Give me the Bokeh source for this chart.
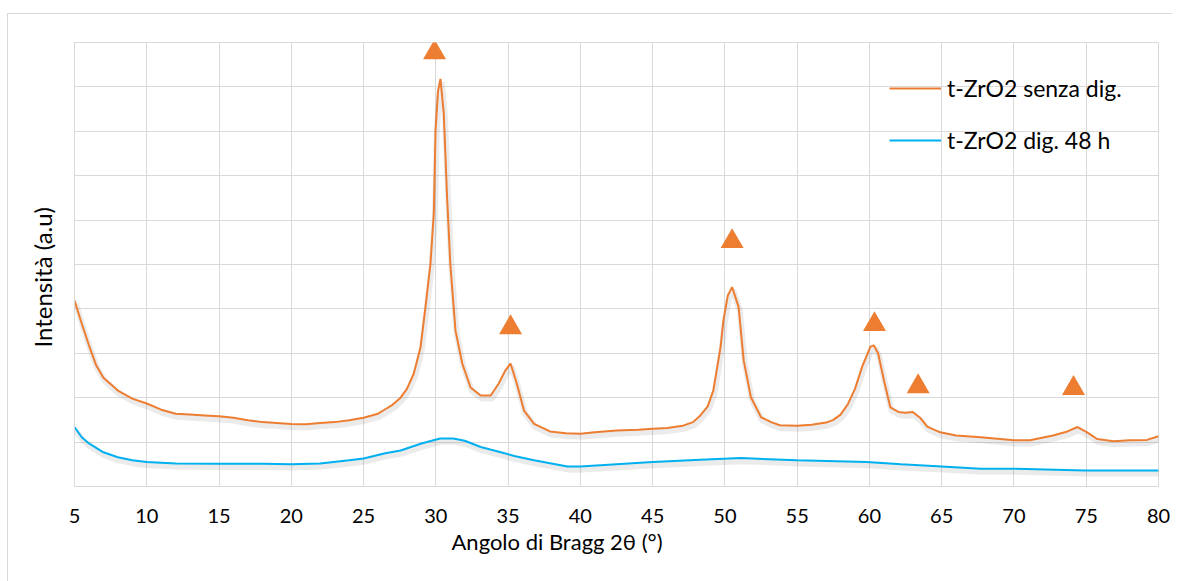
from bokeh.plotting import figure
from bokeh.models import Range1d, FixedTicker, Legend, LegendItem, Title
from bokeh.transform import dodge
from bokeh.embed import file_html
from bokeh.resources import INLINE

# ---- data ----
x_ticks = [5, 10, 15, 20, 25, 30, 35, 40, 45, 50, 55, 60, 65, 70, 75, 80]

x_senza = [5, 5.5, 6, 6.5, 7, 8, 9, 10, 11, 12, 13, 14, 15, 16, 17, 18, 19, 20, 21, 22,
           23, 24, 25, 26, 26.5, 27, 27.56, 28, 28.47, 28.94, 29.28, 29.63, 29.86, 29.98,
           30.15, 30.32, 30.55, 30.78, 31.0, 31.36, 31.83, 32.4, 33.1, 33.8, 34.35, 34.8,
           35.17, 35.6, 36.1, 36.8, 37.9, 39, 40, 41, 42.5, 44, 45, 46, 47.1, 47.8, 48.3,
           48.8, 49.2, 49.7, 49.9, 50.2, 50.5, 50.95, 51.3, 51.8, 52.5, 53.2, 53.8, 55, 56,
           57, 57.5, 58, 58.5, 59, 59.5, 60.07, 60.3, 60.6, 61, 61.45, 62, 62.5, 63, 63.5,
           64, 64.9, 66, 67.7, 70, 71.1, 72.7, 73.7, 74.4, 75.06, 75.75, 76.9, 78, 79.2, 80]
y_senza = [4.19, 3.67, 3.18, 2.73, 2.45, 2.16, 1.98, 1.87, 1.73, 1.64, 1.62, 1.60, 1.58, 1.55,
           1.49, 1.45, 1.43, 1.41, 1.40, 1.43, 1.45, 1.49, 1.55, 1.64, 1.74, 1.84, 2.0, 2.2,
           2.54, 3.13, 4.03, 5.02, 6.15, 8.02, 8.9, 9.18, 8.4, 6.51, 5.02, 3.51, 2.77, 2.23,
           2.05, 2.05, 2.32, 2.61, 2.77, 2.32, 1.71, 1.41, 1.24, 1.2, 1.19, 1.22, 1.26, 1.28,
           1.30, 1.32, 1.37, 1.45, 1.60, 1.80, 2.16, 3.14, 3.74, 4.3, 4.49, 4.04, 2.84, 2.01,
           1.56, 1.45, 1.38, 1.37, 1.39, 1.44, 1.50, 1.62, 1.85, 2.2, 2.7, 3.15, 3.18, 3.0,
           2.4, 1.78, 1.68, 1.66, 1.68, 1.55, 1.35, 1.22, 1.15, 1.11, 1.04, 1.04, 1.15, 1.24,
           1.34, 1.22, 1.07, 1.02, 1.04, 1.05, 1.13]

x_dig48 = [5, 5.5, 6, 7, 8, 9, 10, 12, 15, 18, 20, 22, 24, 25, 26.5, 27.56, 29, 30.3, 31.2,
           32, 33.1, 34.5, 35.5, 36.8, 39.1, 40, 42.5, 45, 48.3, 51.1, 55, 59.8, 62.2, 65,
           67.7, 70, 74.9, 80]
y_dig48 = [1.34, 1.11, 0.97, 0.77, 0.66, 0.59, 0.55, 0.52, 0.51, 0.51, 0.50, 0.52, 0.59, 0.63,
           0.75, 0.81, 0.97, 1.08, 1.08, 1.03, 0.89, 0.77, 0.68, 0.59, 0.45, 0.45, 0.50, 0.55,
           0.60, 0.64, 0.59, 0.55, 0.50, 0.45, 0.40, 0.40, 0.36, 0.36]

peak_x = [29.91, 35.17, 50.5, 60.35, 63.37, 74.12]
peak_y = [9.77, 3.58, 5.52, 3.65, 2.25, 2.21]

ORANGE = "#ED7D31"
BLUE = "#00B0F0"
GRID = "#D9D9D9"
TEXT = "#000000"
FONT = "Lato"

p = figure(frame_width=1084, frame_height=444,
           min_border_left=66, min_border_top=28, min_border_right=14, min_border_bottom=95,
           x_range=Range1d(5, 80), y_range=Range1d(0, 10),
           output_backend="svg", toolbar_location=None,
           margin=(13, 0, 0, 7))
p.styles = {"border-top": "1px solid #D9D9D9", "border-left": "1px solid #D9D9D9"}
p.background_fill_color = "white"
p.border_fill_color = "white"
p.outline_line_color = GRID

# grid
p.xaxis.ticker = FixedTicker(ticks=x_ticks)
p.xgrid.ticker = FixedTicker(ticks=x_ticks)
p.ygrid.ticker = FixedTicker(ticks=list(range(0, 11)))
p.yaxis.ticker = FixedTicker(ticks=[])
p.grid.grid_line_color = GRID
p.grid.grid_line_width = 1

# axes
for ax in (p.xaxis[0], p.yaxis[0]):
    ax.axis_line_color = GRID
    ax.major_tick_line_color = None
    ax.minor_tick_line_color = None
    ax.major_tick_out = 0
    ax.minor_tick_out = 0
    ax.major_label_text_font = FONT
    ax.major_label_text_font_size = "20px"
    ax.major_label_text_color = TEXT
p.xaxis.major_label_standoff = 22

# axis titles (placed off-centre, like the reference)
p.add_layout(Title(text="Intensità (a.u)", align="left", offset=139, standoff=35,
                   text_font=FONT, text_font_size="24px", text_font_style="normal",
                   text_color=TEXT), "left")
p.add_layout(Title(text="Angolo di Bragg 2θ (°)", align="left", offset=377, standoff=0,
                   text_font=FONT, text_font_size="22px", text_font_style="normal",
                   text_color=TEXT), "below")

# soft shadows under the lines
p.line(x=dodge("x", 0.08, range=p.x_range), y=dodge("y", -0.07, range=p.y_range),
       source={"x": x_senza, "y": y_senza}, line_color="black", line_alpha=0.08, line_width=6)
p.line(x=dodge("x", 0.08, range=p.x_range), y=dodge("y", -0.07, range=p.y_range),
       source={"x": x_dig48, "y": y_dig48}, line_color="black", line_alpha=0.08, line_width=6)

r1 = p.line(x_senza, y_senza, line_color=ORANGE, line_width=2)
r2 = p.line(x_dig48, y_dig48, line_color=BLUE, line_width=2)

p.scatter(peak_x, peak_y, marker="triangle", size=23, fill_color=ORANGE, line_color=None)

legend = Legend(items=[LegendItem(label="t-ZrO2 senza dig.", renderers=[r1]),
                       LegendItem(label="t-ZrO2 dig. 48 h", renderers=[r2])],
                location=(815, 332))
legend.background_fill_alpha = 0
legend.border_line_color = None
legend.padding = 0
legend.margin = 0
legend.spacing = 24
legend.glyph_width = 52
legend.glyph_height = 20
legend.label_height = 20
legend.label_standoff = 6
legend.label_text_font = FONT
legend.label_text_font_size = "23px"
legend.label_text_color = TEXT
p.add_layout(legend, "center")

open("out.html", "w").write(file_html(p, INLINE))
